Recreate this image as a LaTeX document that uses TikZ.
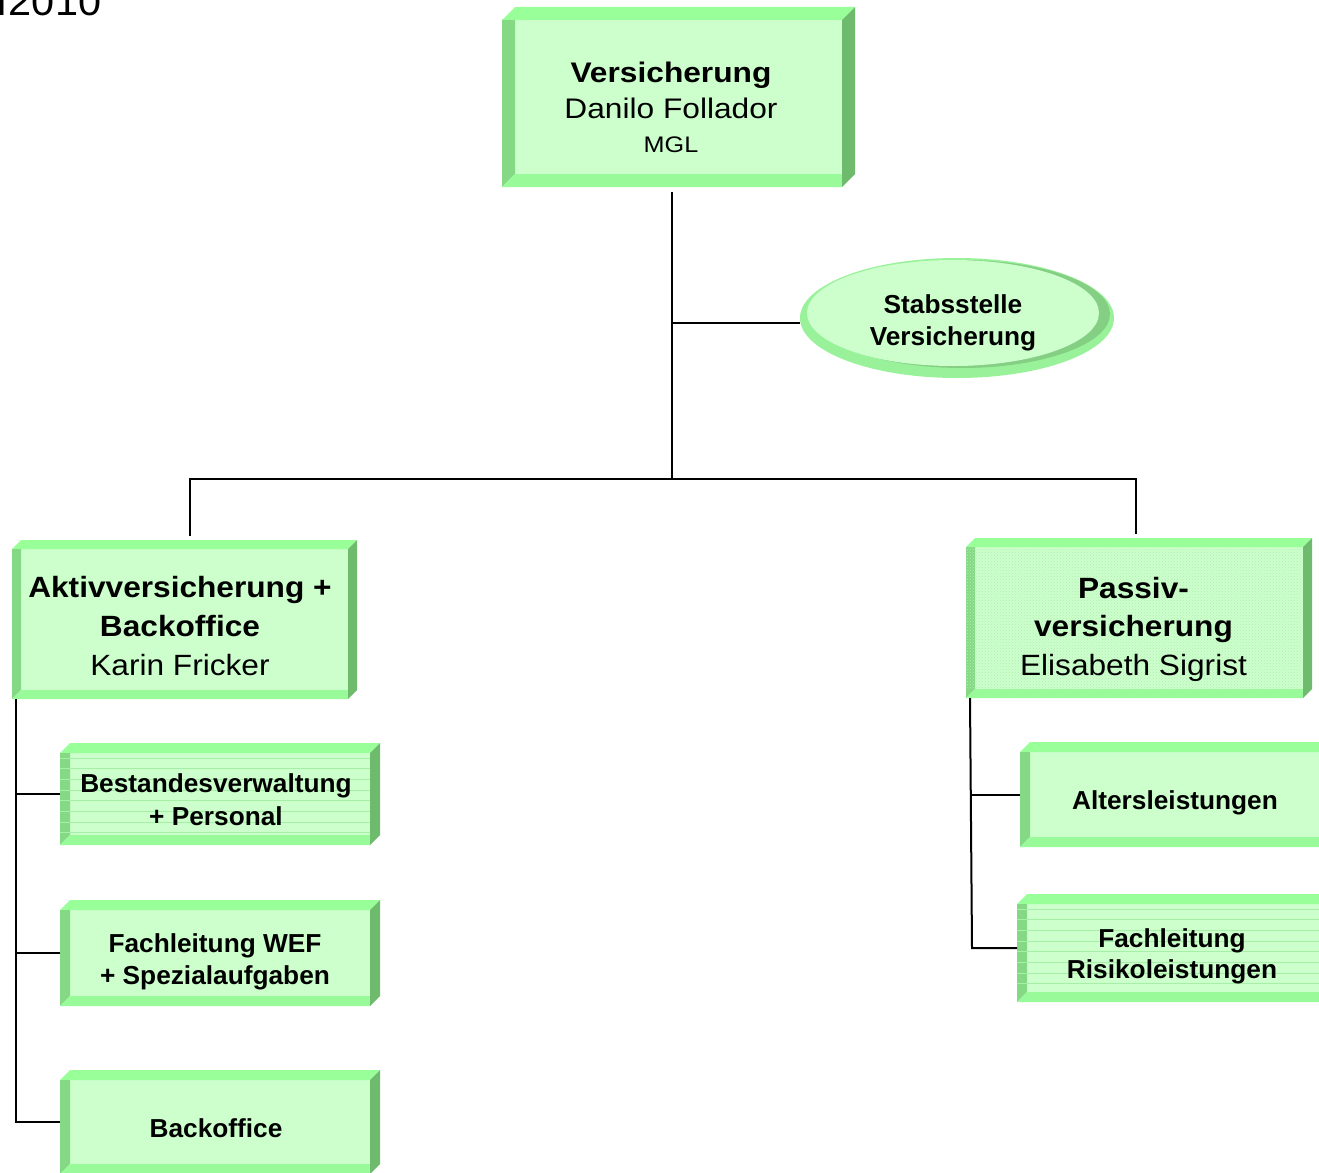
\documentclass[tikz,border=0pt]{standalone}
\usepackage{fontspec}
\setmainfont{Liberation Sans}
\newfontfamily\fntA[FakeStretch=1.12]{Liberation Sans}
\newfontfamily\fntB[FakeStretch=1.08]{Liberation Sans}
\newfontfamily\fntC[FakeStretch=1.01]{Liberation Sans}
\newfontfamily\fntD[FakeStretch=1.05]{Liberation Sans}
\usetikzlibrary{shapes.geometric,patterns}
\definecolor{cface}{HTML}{CCFFCC}
\definecolor{ctop}{HTML}{99FF99}
\definecolor{cbot}{HTML}{99FA99}
\definecolor{cleft}{HTML}{85D985}
\definecolor{cright}{HTML}{6EBB6E}
\definecolor{cline}{HTML}{A6EFA6}
\definecolor{ebright}{HTML}{99F299}
\definecolor{edark}{HTML}{84CF84}
\definecolor{cdots}{HTML}{B2EDB2}
% #1 name, #2 x1, #3 y1, #4 x2, #5 y2, #6 bevel
\newcommand\bevbox[6]{%
  \fill[cface] (#2+#6,#3+#6) rectangle (#4-#6,#5-#6);
  \fill[ctop] (#2,#3+#6) -- (#2+#6,#3) -- (#4,#3) -- (#4-#6,#3+#6) -- cycle;
  \fill[cleft] (#2,#3+#6) -- (#2+#6,#3+#6) -- (#2+#6,#5-#6) -- (#2,#5) -- cycle;
  \fill[cbot] (#2,#5) -- (#2+#6,#5-#6) -- (#4-#6,#5-#6) -- (#4-#6,#5) -- cycle;
  \fill[cright] (#4-#6,#3+#6) -- (#4,#3) -- (#4,#5-#6) -- (#4-#6,#5) -- cycle;
  \node[boxnode, minimum width={#4-#2}, minimum height={#5-#3}] (#1) at ({(#2+#4)/2},{(#3+#5)/2}) {};
}
% #1 x1, #2 y1, #3 x2, #4 y2, #5 bevel
\newcommand\hlinesbox[5]{%
  \foreach \k in {0,...,7}{\draw[hl] (#1,{#2+#5+5+\k*10.7}) -- (#3-#5,{#2+#5+5+\k*10.7});}%
}
\begin{document}
\begin{tikzpicture}[x=1pt,y=-1pt,
  boxnode/.style={rectangle, inner sep=0pt, outer sep=0pt},
  conn/.style={line width=2pt, draw=black},
  txt/.style={inner sep=0pt, anchor=base, text=black},
  hl/.style={draw=cline, line width=1pt}]
\useasboundingbox (0,0) rectangle (1319,1172);
\clip (0,0) rectangle (1319,1172);

% date fragment
\node[inner sep=0pt, anchor=base west] (date) at (-2.5,16)
  {\fntD\fontsize{39.5}{44}\selectfont\spaceskip=2pt l 2010};

% boxes
\bevbox{top}{502}{7}{855}{187}{13}
\bevbox{aktiv}{12}{540}{357}{699}{9}
\bevbox{passiv}{966}{538}{1312}{698}{9}
\fill[pattern=crosshatch dots, pattern color=cdots] (966,547) rectangle (1303,689);
\bevbox{bestand}{60}{743}{380}{845}{10}
\hlinesbox{60}{743}{380}{845}{10}
\bevbox{fachwef}{60}{900}{380}{1006}{10}
\bevbox{backoff}{60}{1070}{380}{1174}{10}
\bevbox{alters}{1020}{742}{1340}{847}{10}
\bevbox{risiko}{1017}{894}{1340}{1002}{10}
\hlinesbox{1017}{894}{1340}{1002}{10}

% ellipse
\node[ellipse, inner sep=0pt, minimum width=314, minimum height=120, fill=ebright] (stab) at (957,318) {};
\fill[edark] (962,314) ellipse [x radius=148, y radius=54];
\fill[cface] (953,313) ellipse [x radius=146, y radius=53];

% texts
\node[txt] (top-t) at (671,82) {\fntA\fontsize{28.3}{36}\selectfont
  \begin{tabular}[t]{@{}c@{}}\bfseries Versicherung\\ Danilo Follador\\[-2pt]
  \fontsize{22.5}{24}\selectfont MGL\end{tabular}};
\node[txt] (stab-t) at (953,313) {\fntC\fontsize{26}{32}\selectfont\bfseries
  \begin{tabular}[t]{@{}c@{}}Stabsstelle\\ Versicherung\end{tabular}};
\node[txt] (aktiv-t) at (180,597) {\fntB\fontsize{29.3}{39}\selectfont
  \begin{tabular}[t]{@{}c@{}}\bfseries Aktivversicherung +\\ \bfseries Backoffice\\ Karin Fricker\end{tabular}};
\node[txt] (passiv-t) at (1133.5,598) {\fntB\fontsize{29.3}{38.5}\selectfont
  \begin{tabular}[t]{@{}c@{}}\bfseries Passiv-\\ \bfseries versicherung\\ Elisabeth Sigrist\end{tabular}};
\node[txt] (bestand-t) at (216,792.5) {\fntC\fontsize{26}{32.5}\selectfont\bfseries
  \begin{tabular}[t]{@{}c@{}}Bestandesverwaltung\\ + Personal\end{tabular}};
\node[txt] (fachwef-t) at (215,952) {\fntC\fontsize{26}{32}\selectfont\bfseries
  \begin{tabular}[t]{@{}c@{}}Fachleitung WEF\\ + Spezialaufgaben\end{tabular}};
\node[txt] (backoff-t) at (216,1137) {\fntC\fontsize{26}{32}\selectfont\bfseries Backoffice};
\node[txt] (alters-t) at (1175,809) {\fntC\fontsize{26}{32}\selectfont\bfseries Altersleistungen};
\node[txt] (risiko-t) at (1172,947.5) {\fntC\fontsize{26}{31}\selectfont\bfseries
  \begin{tabular}[t]{@{}c@{}}Fachleitung\\ Risikoleistungen\end{tabular}};

% connectors
\coordinate (bar) at (672,479);
\coordinate (sp) at ([xshift=-6.5pt,yshift=-5pt]top.south);
\draw[conn] (sp) -- (sp |- bar);
\draw[conn] (sp |- stab.182) -- (stab.182);
\coordinate (al) at ([xshift=5pt,yshift=4pt]aktiv.north);
\coordinate (ar) at ([xshift=-3.5pt,yshift=4pt]passiv.north);
\draw[conn] (al) -- (al |- bar) -- (ar |- bar) -- (ar);
\coordinate (ls) at ([xshift=4pt]aktiv.south west);
\draw[conn] (ls) |- (backoff.west);
\draw[conn] (bestand.west) -- (bestand.west -| ls);
\draw[conn] (fachwef.west) -- (fachwef.west -| ls);
\coordinate (rs) at ([xshift=4pt]passiv.south west);
\coordinate (rb) at ([xshift=-45pt]risiko.west);
\draw[conn] (rs) -- (rb) -- (risiko.west);
\draw[conn] (alters.west) -- (alters.west -| rs);
\end{tikzpicture}
\end{document}
